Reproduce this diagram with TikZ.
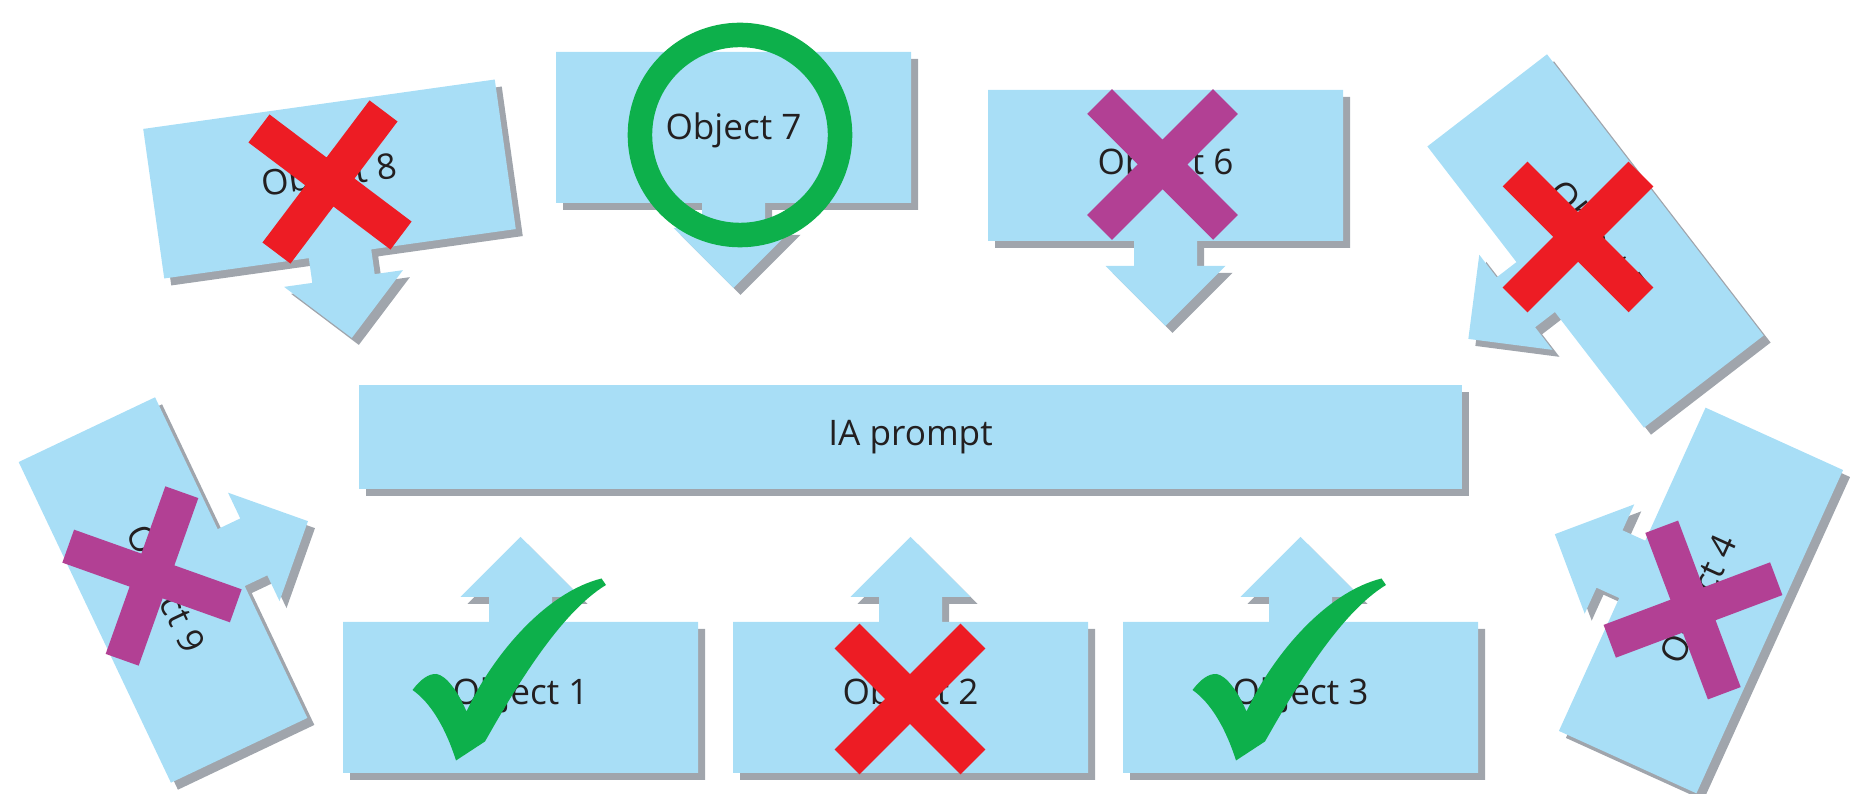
\documentclass[tikz,border=0pt]{standalone}
\usepackage{fontspec}
\setmainfont{Open Sans}
\usetikzlibrary{positioning, shadows}

\definecolor{boxblue}{RGB}{168,222,246}
\definecolor{boxshadow}{RGB}{160,165,172}
\definecolor{textdark}{RGB}{35,31,32}
\definecolor{markred}{RGB}{237,28,36}
\definecolor{markpurple}{RGB}{178,64,148}
\definecolor{markgreen}{RGB}{13,176,75}

% block with its arrow, centred at the origin, arrow towards +y
\newcommand{\blockpath}{(-177.5,-75.5) -- (177.5,-75.5) -- (177.5,75.5) -- (31.5,75.5) -- (31.5,100.5) -- (60,100.5) -- (0,160.5) -- (-60,100.5) -- (-31.5,100.5) -- (-31.5,75.5) -- (-177.5,75.5) -- cycle}

% \objblock{x}{y}{angle}{1 = arrow up, -1 = arrow down}
\newcommand{\objblock}[4]{%
  \fill[boxshadow, shift={(#1+7,#2-7)}, rotate=#3, yscale=#4] \blockpath;
  \fill[boxblue, shift={(#1,#2)}, rotate=#3, yscale=#4] \blockpath;
}

% \crossmark{colour}{x}{y}{angle}
\newcommand{\crossmark}[4]{%
  \draw[crossbar, #1, shift={(#2,#3)}, rotate=#4] (-62.9,-62.9) -- (62.9,62.9) (-62.9,62.9) -- (62.9,-62.9);
}

% \tickmark{x}{y}, relative to the block centre
\newcommand{\tickmark}[2]{%
  \fill[markgreen, shift={(#1,#2)}] (-108,7.5) .. controls (-100,18) and (-92,24) .. (-84,23.5)
    .. controls (-74,22) and (-62,5) .. (-54,-14)
    .. controls (-28,42) and (25,105) .. (81,119) -- (85.5,112.5)
    .. controls (40,85) and (-5,10) .. (-35.5,-44) -- (-64.5,-63)
    .. controls (-75,-30) and (-90,-5) .. cycle;
}

\begin{document}
\begin{tikzpicture}[
        x=0.01cm, y=0.01cm,
        objtext/.style={
            font=\fontsize{10}{12}\selectfont,
            text=textdark,
            inner sep=0pt
        },
        prompt/.style={
            rectangle,
            fill=boxblue,
            minimum width=11.03cm,
            minimum height=1.04cm,
            font=\fontsize{10}{12}\selectfont,
            text=textdark,
            drop shadow={shadow xshift=0.07cm, shadow yshift=-0.07cm, fill=boxshadow, opacity=1}
        },
        crossbar/.style={line width=0.35cm},
        ring/.style={draw=markgreen, line width=0.245cm}
    ]
    \useasboundingbox (0,0) rectangle (1853,794);

    % Blocks
    \objblock{520.5}{96.5}{0}{1}
    \objblock{910.5}{96.5}{0}{1}
    \objblock{1300.5}{96.5}{0}{1}
    \objblock{1701}{193.5}{65.6}{1}
    \objblock{1595.5}{553}{-52.4}{-1}
    \objblock{1165.5}{628.5}{0}{-1}
    \objblock{733.5}{666.5}{0}{-1}
    \objblock{329.5}{615}{8}{-1}
    \objblock{163}{204}{-64.6}{1}

    % Nodes
    \node[prompt] (prompt) at (910.5,357) {IA prompt};
    \node[objtext] (obj1) at (520.5,99) {Object 1};
    \node[objtext] (obj2) at (910.5,99) {Object 2};
    \node[objtext] (obj3) at (1300.5,99) {Object 3};
    \node[objtext, rotate=65.6] (obj4) at (1701,193.5) {Object 4};
    \node[objtext, rotate=-52.4] (obj5) at (1595.5,553) {Object 5};
    \node[objtext] (obj6) at (1165.5,628.5) {Object 6};
    \node[objtext] (obj7) at (733.5,664) {Object 7};
    \node[objtext, rotate=8] (obj8) at (329.5,616) {Object 8};
    \node[objtext, rotate=-64.6] (obj9) at (163,204) {Object 9};

    % Marks
    \tickmark{520.5}{96.5}
    \crossmark{markred}{910}{95}{0}
    \tickmark{1300.5}{96.5}
    \crossmark{markpurple}{1693}{184}{65.6}
    \crossmark{markred}{1578}{557}{0}
    \crossmark{markpurple}{1162.5}{629.5}{0}
    \draw[ring] (740,659) circle[radius=1cm];
    \crossmark{markred}{330}{612}{8}
    \crossmark{markpurple}{152}{218}{-64.6}

\end{tikzpicture}
\end{document}
